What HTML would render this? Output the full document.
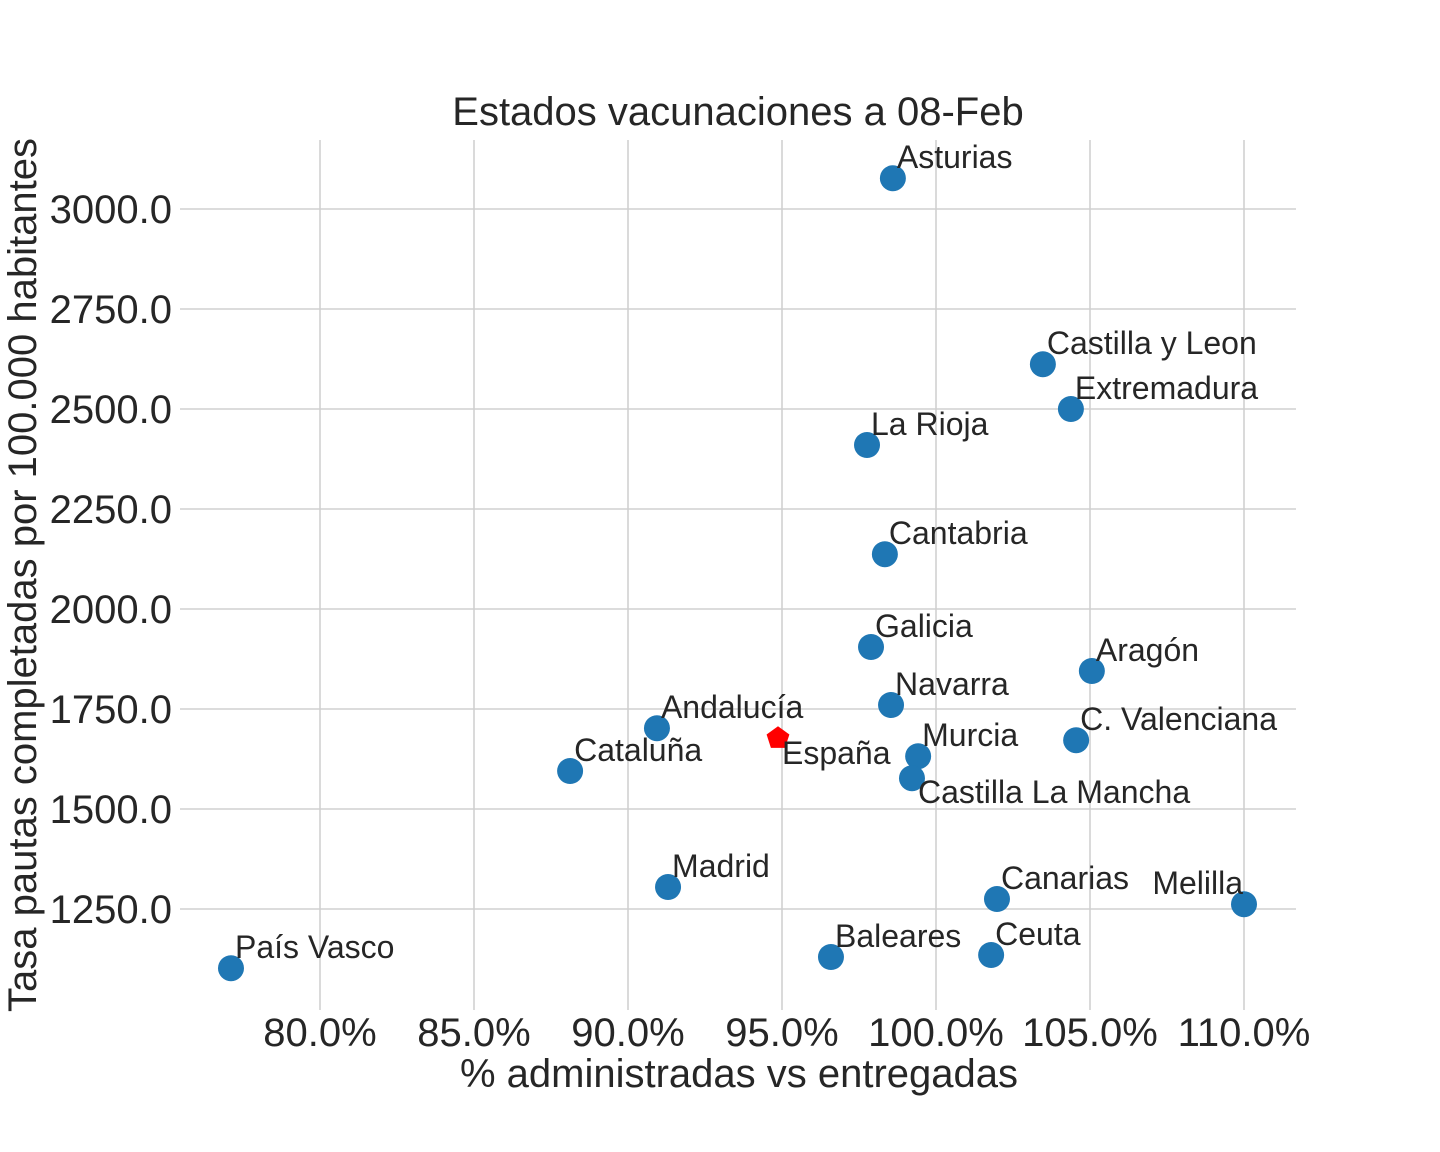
<!DOCTYPE html>
<html><head><meta charset="utf-8"><style>
html,body{margin:0;padding:0;background:#fff;}
svg{display:block;font-family:"Liberation Sans",Arial,sans-serif;}
</style></head><body>
<svg id="chart" width="1440" height="1152" viewBox="0 0 1440 1152"></svg>
<script>
const names=["Asturias","Castilla y Leon","Extremadura","La Rioja","Cantabria","Galicia","Aragón","Navarra","Andalucía","C. Valenciana","Murcia","Castilla La Mancha","Cataluña","Madrid","Canarias","Melilla","Baleares","Ceuta","País Vasco"];
const pctValues=[98.6,103.47,104.38,97.76,98.34,97.89,105.06,98.54,90.94,104.55,99.42,99.22,88.12,91.3,101.98,110.0,96.59,101.79,77.11];
const rateValues=[3077,2612,2500,2410,2137,1905,1845,1760,1702,1672,1632,1577,1595,1305,1275,1262,1130,1135,1102];
const spainPct=[94.87];
const spainRate=[1677];
const xTicks=[80,85,90,95,100,105,110];
const yTicks=[1250,1500,1750,2000,2250,2500,2750,3000];
const NS="http://www.w3.org/2000/svg";
const svg=document.getElementById('chart');
function X(v){return 320+(v-80)*30.8;}
function Y(v){return 209-(v-3000)*0.4;}
function el(t,a,p){const e=document.createElementNS(NS,t);for(const k in a)e.setAttribute(k,a[k]);(p||svg).appendChild(e);return e;}
const grid=el('g',{});


xTicks.forEach(t=>{el('line',{x1:X(t),x2:X(t),y1:140,y2:1010,stroke:'#d0d0d0','stroke-width':1.6},grid);
 const tx=el('text',{x:X(t),y:1046,'font-size':40,'text-anchor':'middle',fill:'#262626'});tx.textContent=t.toFixed(1)+'%';
 
 });
yTicks.forEach(t=>{el('line',{x1:180,x2:1296,y1:Y(t),y2:Y(t),stroke:'#d0d0d0','stroke-width':1.6},grid);
 const tx=el('text',{x:172,y:Y(t)+14,'font-size':40,'text-anchor':'end',fill:'#262626'});tx.textContent=t.toFixed(1);
 
 });
const offs={"Melilla":[-1,-10,'end'],"Castilla La Mancha":[6,25,'start']};
names.forEach((n,i)=>{const cx=X(pctValues[i]),cy=Y(rateValues[i]);
 const c=el('circle',{cx:cx,cy:cy,r:13,fill:'#1f77b4'});
 
 
 const o=offs[n]||[4,-10,'start'];
 const t=el('text',{x:cx+o[0],y:cy+o[1],'font-size':32,'text-anchor':o[2],fill:'#262626'});t.textContent=n;
 
 });
const sx=X(spainPct[0]),sy=Y(spainRate[0]);let pts=[];
for(let k=0;k<5;k++){const a=-Math.PI/2+k*2*Math.PI/5;pts.push((sx+12*Math.cos(a)).toFixed(1)+','+(sy+12*Math.sin(a)).toFixed(1));}
const pg=el('polygon',{points:pts.join(' '),fill:'#ff0000'});


const st=el('text',{x:sx+4,y:sy+26,'font-size':32,fill:'#262626'});st.textContent='España';


const ti=el('text',{x:738,y:125,'font-size':40,'text-anchor':'middle',fill:'#262626'});ti.textContent='Estados vacunaciones a 08-Feb';


const xl=el('text',{x:739,y:1087,'font-size':40,'text-anchor':'middle',fill:'#262626'});xl.textContent='% administradas vs entregadas';


const yl=el('text',{x:0,y:0,'font-size':40,'text-anchor':'middle',fill:'#262626',transform:'translate(36,575) rotate(-90)'});yl.textContent='Tasa pautas completadas por 100.000 habitantes';


</script>
</body></html>
